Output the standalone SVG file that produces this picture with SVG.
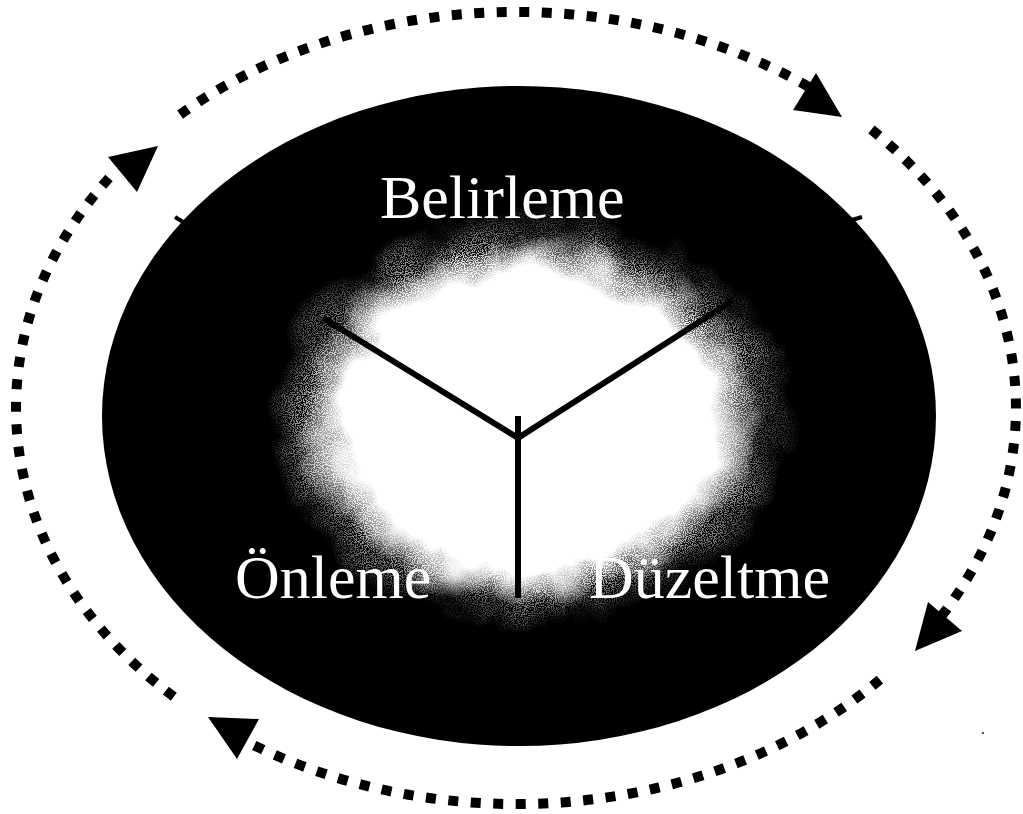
<svg xmlns="http://www.w3.org/2000/svg" width="1023" height="814" viewBox="0 0 1023 814">
  <defs>
    <radialGradient id="halo" cx="50%" cy="50%" r="50%">
      <stop offset="0" stop-color="#fff" stop-opacity="1"/>
      <stop offset="0.75" stop-color="#fff" stop-opacity="0.9"/>
      <stop offset="1" stop-color="#fff" stop-opacity="0"/>
    </radialGradient>
    <radialGradient id="core" cx="50%" cy="50%" r="50%">
      <stop offset="0" stop-color="#fff" stop-opacity="1"/>
      <stop offset="0.8" stop-color="#fff" stop-opacity="1"/>
      <stop offset="1" stop-color="#fff" stop-opacity="0"/>
    </radialGradient>
    <filter id="rough" x="-20%" y="-20%" width="140%" height="140%">
      <feTurbulence type="fractalNoise" baseFrequency="0.018" numOctaves="3" seed="4" result="n"/>
      <feDisplacementMap in="SourceGraphic" in2="n" scale="45" xChannelSelector="R" yChannelSelector="G"/>
    </filter>
    <filter id="speck" x="-20%" y="-20%" width="140%" height="140%">
      <feTurbulence type="fractalNoise" baseFrequency="0.018" numOctaves="3" seed="7" result="n"/>
      <feDisplacementMap in="SourceGraphic" in2="n" scale="50" xChannelSelector="R" yChannelSelector="G" result="shape"/>
      <feTurbulence type="fractalNoise" baseFrequency="0.9" numOctaves="1" seed="2" result="fine"/>
      <feColorMatrix in="fine" type="matrix" values="0 0 0 0 1  0 0 0 0 1  0 0 0 0 1  8 0 0 0 -3.6" result="dots"/>
      <feComposite in="dots" in2="shape" operator="in"/>
    </filter>
  </defs>
  <style>
    .lbl { font-family: "Liberation Serif", "Times New Roman", serif; font-size: 62px; fill: #ffffff; }
    .dots { fill: none; stroke: #000; stroke-width: 10; stroke-dasharray: 10 12.5; }
    .ylin { stroke: #000; stroke-width: 6; fill: none; stroke-linecap: butt; }
    .head { fill: #000; }
  </style>
  <rect width="1023" height="814" fill="#ffffff"/>

  <g id="disc">
    <ellipse cx="519" cy="416" rx="417" ry="330" fill="#000"/>
    <line x1="175" y1="217" x2="183" y2="222" stroke="#000" stroke-width="4"/>
    <line x1="852" y1="220" x2="862" y2="217" stroke="#000" stroke-width="4"/>
    <ellipse cx="530" cy="418" rx="262" ry="208" fill="url(#halo)" filter="url(#speck)"/>
    <ellipse cx="530" cy="420" rx="232" ry="182" fill="url(#core)" filter="url(#rough)"/>
  </g>

  <g id="divider">
    <line class="ylin" x1="323" y1="318" x2="518" y2="438"/>
    <line class="ylin" x1="518" y1="438" x2="732" y2="301"/>
    <line class="ylin" x1="518" y1="416" x2="518" y2="598"/>
  </g>

  <g id="node-belirleme"><text class="lbl" x="380" y="218">Belirleme</text></g>
  <g id="node-onleme"><text class="lbl" x="235" y="598">Önleme</text></g>
  <g id="node-duzeltme"><text class="lbl" x="589" y="598">Düzeltme</text></g>

  <g id="connectors">
    <path class="dots" d="M 180.1 114.6 A 500 396 0 0 1 809.2 87.2"/>
    <polygon class="head" points="816,73 842,117 793,110"/>
    <path class="dots" d="M 871.4 129.5 A 500 396 0 0 1 942.3 614.9"/>
    <polygon class="head" points="928,602 962,631 915,651"/>
    <path class="dots" d="M 879.9 679.6 A 500 396 0 0 1 244.4 740.5"/>
    <polygon class="head" points="259,719 237,759 208,717"/>
    <path class="dots" d="M 173.8 696.7 A 500 396 0 0 1 116.2 170.2"/>
    <polygon class="head" points="108,157 158,146 137,192"/>
  </g>
  <rect x="982" y="732" width="2" height="2" fill="#555"/>
</svg>
